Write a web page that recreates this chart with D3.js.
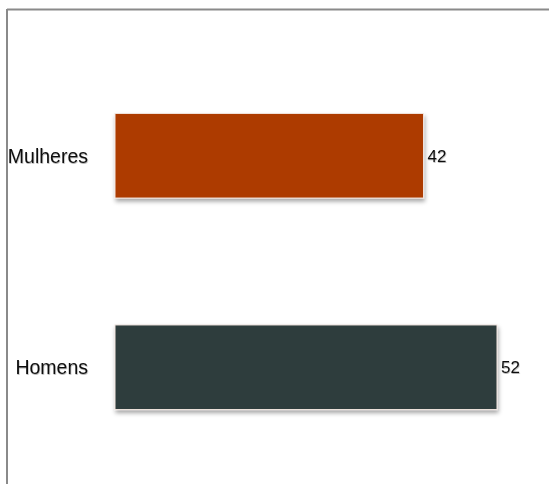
<!DOCTYPE html>
<html>
<head>
<meta charset="utf-8">
<script src="https://cdnjs.cloudflare.com/ajax/libs/d3/7.8.5/d3.min.js"></script>
<style>
  body { margin: 0; background: #fff; }
  text { font-family: "Liberation Sans", Arial, sans-serif; fill: #111; }
</style>
</head>
<body>
<div id="chart"></div>
<script>
// data
var categories = ["Mulheres", "Homens"];
var values = [42, 52];
var colors = ["#ad3b00", "#2e3c3c"];

var width = 549, height = 484;

var svg = d3.select("#chart").append("svg")
    .attr("width", width)
    .attr("height", height);

// drop shadow under the bars
var defs = svg.append("defs");
var f = defs.append("filter").attr("id", "shadow")
    .attr("x", "-10%").attr("y", "-10%").attr("width", "120%").attr("height", "130%");
f.append("feDropShadow")
    .attr("dx", 1).attr("dy", 3)
    .attr("stdDeviation", 2)
    .attr("flood-color", "#000")
    .attr("flood-opacity", 0.35);

// soft shadow for the labels
var ft = defs.append("filter").attr("id", "tshadow");
ft.append("feDropShadow")
    .attr("dx", 0.5).attr("dy", 1)
    .attr("stdDeviation", 0.6)
    .attr("flood-color", "#000")
    .attr("flood-opacity", 0.3);

// frame (top and left edges only visible)
svg.append("line")
    .attr("x1", 7).attr("x2", width).attr("y1", 9.5).attr("y2", 9.5)
    .attr("stroke", "#8a8a8a").attr("stroke-width", 2);
svg.append("line")
    .attr("x1", 7).attr("x2", 7).attr("y1", 9).attr("y2", height)
    .attr("stroke", "#8a8a8a").attr("stroke-width", 2);

var x = d3.scaleLinear()
    .domain([0, 52])
    .range([115, 497]);

var y = d3.scaleBand()
    .domain(categories)
    .range([50, 473])
    .paddingInner(0.6)
    .paddingOuter(0.3);

var bars = svg.selectAll(".bar")
    .data(categories)
    .enter()
    .append("rect")
    .attr("class", "bar")
    .attr("x", x(0))
    .attr("y", function(d){ return y(d); })
    .attr("width", function(d, i){ return x(values[i]) - x(0); })
    .attr("height", y.bandwidth())
    .attr("fill", function(d, i){ return colors[i]; })
    .attr("stroke", "#f2e6e0")
    .attr("stroke-width", 1)
    .attr("filter", "url(#shadow)");

// category labels
svg.selectAll(".cat")
    .data(categories)
    .enter()
    .append("text")
    .attr("class", "cat")
    .attr("x", 88)
    .attr("y", function(d){ return y(d) + y.bandwidth() / 2; })
    .attr("dy", "0.35em")
    .attr("text-anchor", "end")
    .attr("font-size", 19.5)
    .attr("filter", "url(#tshadow)")
    .text(function(d){ return d; });

// value labels
svg.selectAll(".val")
    .data(categories)
    .enter()
    .append("text")
    .attr("class", "val")
    .attr("x", function(d, i){ return x(values[i]) + 4; })
    .attr("y", function(d){ return y(d) + y.bandwidth() / 2; })
    .attr("dy", "0.35em")
    .attr("font-size", 17)
    .attr("filter", "url(#tshadow)")
    .text(function(d, i){ return values[i]; });
</script>
</body>
</html>
